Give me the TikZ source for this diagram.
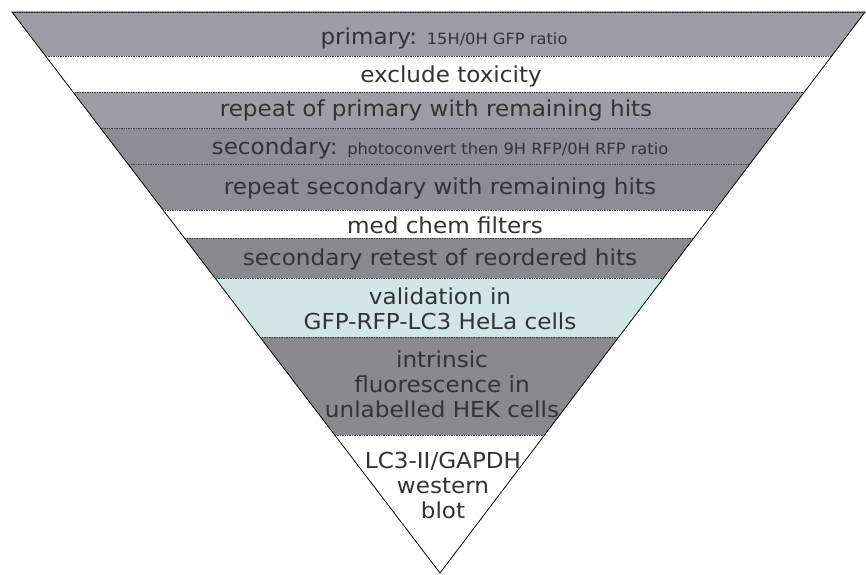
\documentclass[tikz,border=0pt]{standalone}
\usepackage{fontspec}
\setmainfont[FakeStretch=1.05]{DejaVu Sans}
\definecolor{bandA}{HTML}{9E9CA6}
\definecolor{bandB}{HTML}{8E8C94}
\definecolor{bandC}{HTML}{8A8A8E}
\definecolor{bandV}{HTML}{D2E6E6}
\definecolor{txt}{HTML}{333333}
\newcommand\smtxt[1]{{\fontsize{15.5}{18}\selectfont #1}}
\begin{document}
\begin{tikzpicture}[x=1pt,y=-1pt,
  lbl/.style={font=\fontsize{22}{25}\selectfont, text=txt, align=center, inner sep=0pt},
  divider/.style={draw=black!75, line width=0.7pt, densely dotted}]
\useasboundingbox (0,0) rectangle (866,574);
\coordinate (L) at (12,12);
\coordinate (R) at (865,12);
\coordinate (A) at (440,573);
\begin{scope}
  \clip (L)--(R)--(A)--cycle;
  \fill[bandA] (0,12) rectangle (866,56);
  \fill[bandA] (0,92) rectangle (866,128);
  \fill[bandB] (0,128) rectangle (866,210);
  \fill[bandC] (0,238) rectangle (866,278);
  \fill[bandV] (0,278) rectangle (866,337);
  \fill[bandC] (0,337) rectangle (866,435);
  \foreach \y in {12,56,92,128,164,210,238,278,337,435}
    \draw[divider] (0,\y) -- (866,\y);
\end{scope}
\draw[line width=0.8pt] (L)--(R)--(A)--cycle;
\node[lbl] (n1) at (444,38) {primary: \smtxt{15H/0H GFP ratio}};
\node[lbl] (n2) at (451,76) {exclude toxicity};
\node[lbl] (n3) at (436,110) {repeat of primary with remaining hits};
\node[lbl] (n4) at (440,148) {secondary: \smtxt{photoconvert then 9H RFP/0H RFP ratio}};
\node[lbl] (n5) at (440,188) {repeat secondary with remaining hits};
\node[lbl] (n6) at (445,225) {med chem filters};
\node[lbl] (n7) at (440,259) {secondary retest of reordered hits};
\node[lbl] (n8) at (440,309) {validation in\\GFP-RFP-LC3 HeLa cells};
\node[lbl] (n9) at (442,384) {intrinsic\\fluorescence in\\unlabelled HEK cells};
\node[lbl] (n10) at (443,485) {LC3-II/GAPDH\\western\\blot};
\end{tikzpicture}
\end{document}
